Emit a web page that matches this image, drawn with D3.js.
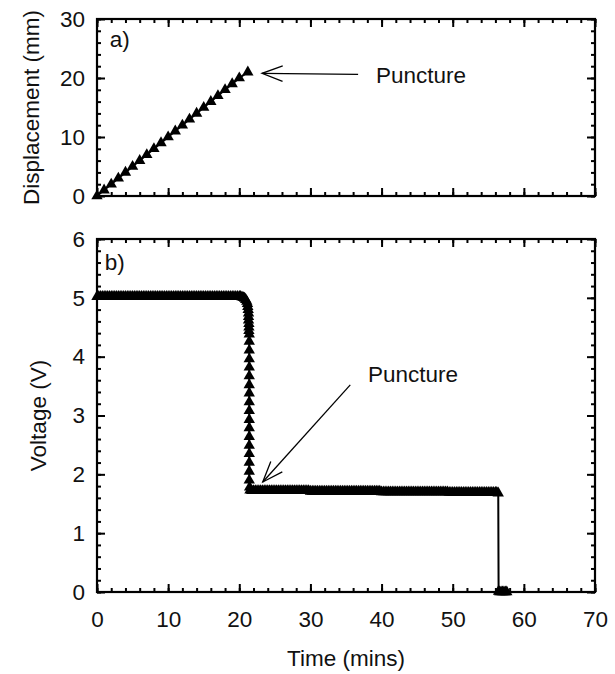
<!DOCTYPE html>
<html>
<head>
<meta charset="utf-8">
<script src="https://cdn.jsdelivr.net/npm/d3@7"></script>
<style>
body { margin: 0; background: #fff; }
text { font-family: "Liberation Sans", Arial, sans-serif; }
</style>
</head>
<body>
<script>
// ---- data ----
var xTicks = [0, 10, 20, 30, 40, 50, 60, 70];
var dispTicks = [0, 10, 20, 30];
var voltTicks = [0, 1, 2, 3, 4, 5, 6];

// panel a) displacement vs time
var dispTime = [0, 1, 2, 3, 4, 5, 6, 7, 8, 9, 10, 11, 12, 13, 14, 15, 16, 17, 18, 19, 20, 21.2];
var dispValue = [0, 1.0, 2.0, 3.0, 4.0, 5.0, 6.0, 7.0, 8.0, 9.0, 10.0, 11.0, 12.0, 13.0, 14.0, 15.0, 16.0, 17.0, 18.0, 19.0, 20.0, 21.0];

// panel b) voltage vs time (logged every 0.25 min on the plateaus)
var voltHighTime = [0,0.25,0.5,0.75,1,1.25,1.5,1.75,2,2.25,2.5,2.75,3,3.25,3.5,3.75,4,4.25,4.5,4.75,
  5,5.25,5.5,5.75,6,6.25,6.5,6.75,7,7.25,7.5,7.75,8,8.25,8.5,8.75,9,9.25,9.5,9.75,
  10,10.25,10.5,10.75,11,11.25,11.5,11.75,12,12.25,12.5,12.75,13,13.25,13.5,13.75,14,14.25,14.5,14.75,
  15,15.25,15.5,15.75,16,16.25,16.5,16.75,17,17.25,17.5,17.75,18,18.25,18.5,18.75,19,19.25,19.5,19.75,20];
var voltHighValue = [5.02,5.02,5.02,5.02,5.02,5.02,5.02,5.02,5.02,5.02,5.02,5.02,5.02,5.02,5.02,5.02,5.02,5.02,5.02,5.02,
  5.02,5.02,5.02,5.02,5.02,5.02,5.02,5.02,5.02,5.02,5.02,5.02,5.02,5.02,5.02,5.02,5.02,5.02,5.02,5.02,
  5.02,5.02,5.02,5.02,5.02,5.02,5.02,5.02,5.02,5.02,5.02,5.02,5.02,5.02,5.02,5.02,5.02,5.02,5.02,5.02,
  5.02,5.02,5.02,5.02,5.02,5.02,5.02,5.02,5.02,5.02,5.02,5.02,5.02,5.02,5.02,5.02,5.02,5.02,5.02,5.02,5.02];
var voltDrop = [[20.2,5.02],[20.4,5.01],[20.6,5.0],[20.75,4.99],[20.9,4.97],[21.05,4.94],[21.15,4.9],[21.2,4.85],
  [21.25,4.8],[21.3,4.74],[21.3,4.68],[21.3,4.62],[21.35,4.56],[21.35,4.5],[21.35,4.44],[21.4,4.38],[21.4,4.26],
  [21.4,4.11],[21.4,3.96],[21.4,3.82],[21.4,3.67],[21.4,3.52],[21.4,3.38],[21.4,3.23],[21.4,3.08],[21.4,2.93],
  [21.4,2.79],[21.4,2.64],[21.4,2.49],[21.4,2.35],[21.4,2.2],[21.4,2.05],[21.4,1.9],[21.45,1.78]];
var voltLowTime = [21.5,21.75,22,22.25,22.5,22.75,23,23.25,23.5,23.75,24,24.25,24.5,24.75,25,25.25,25.5,25.75,
  26,26.25,26.5,26.75,27,27.25,27.5,27.75,28,28.25,28.5,28.75,29,29.25,29.5,29.75,
  30,30.25,30.5,30.75,31,31.25,31.5,31.75,32,32.25,32.5,32.75,33,33.25,33.5,33.75,
  34,34.25,34.5,34.75,35,35.25,35.5,35.75,36,36.25,36.5,36.75,37,37.25,37.5,37.75,
  38,38.25,38.5,38.75,39,39.25,39.5,39.75,40,40.25,40.5,40.75,41,41.25,41.5,41.75,
  42,42.25,42.5,42.75,43,43.25,43.5,43.75,44,44.25,44.5,44.75,45,45.25,45.5,45.75,
  46,46.25,46.5,46.75,47,47.25,47.5,47.75,48,48.25,48.5,48.75,49,49.25,49.5,49.75,
  50,50.25,50.5,50.75,51,51.25,51.5,51.75,52,52.25,52.5,52.75,53,53.25,53.5,53.75,
  54,54.25,54.5,54.75,55,55.25,55.5,55.75,56,56.2,56.4];
var voltLowValue = [1.73,1.72,1.72,1.72,1.72,1.72,1.72,1.72,1.72,1.72,1.72,1.72,1.72,1.72,1.72,1.72,1.72,1.72,
  1.72,1.72,1.72,1.72,1.72,1.72,1.72,1.72,1.72,1.72,1.72,1.72,1.72,1.72,1.72,1.72,
  1.71,1.71,1.71,1.71,1.71,1.71,1.71,1.71,1.71,1.71,1.71,1.71,1.71,1.71,1.71,1.71,
  1.71,1.71,1.71,1.71,1.71,1.71,1.71,1.71,1.71,1.71,1.71,1.71,1.71,1.71,1.71,1.71,
  1.71,1.71,1.71,1.71,1.71,1.71,1.71,1.71,1.70,1.70,1.70,1.70,1.70,1.70,1.70,1.70,
  1.70,1.70,1.70,1.70,1.70,1.70,1.70,1.70,1.70,1.70,1.70,1.70,1.70,1.70,1.70,1.70,
  1.70,1.70,1.70,1.70,1.70,1.70,1.70,1.70,1.70,1.70,1.70,1.70,1.70,1.70,1.69,1.69,
  1.69,1.69,1.69,1.69,1.69,1.69,1.69,1.69,1.69,1.69,1.69,1.69,1.69,1.69,1.69,1.69,
  1.69,1.69,1.69,1.69,1.69,1.69,1.69,1.69,1.69,1.69,1.68];
var voltCut = [[56.45,0.01],[56.6,0],[56.8,0],[57.0,0],[57.2,0],[57.4,0],[57.6,0]];

// ---- layout ----
var W = 615, H = 674;
var FONT = 22.5;
var svg = d3.select("body").append("svg").attr("width", W).attr("height", H);

var x = d3.scaleLinear().domain([0, 70]).range([97, 595]);
var yTop = d3.scaleLinear().domain([0, 30]).range([196, 19]);
var yBot = d3.scaleLinear().domain([0, 6]).range([592, 239]);

function zip(a, b) { return a.map(function(v, i){ return [v, b[i]]; }); }

function minorOf(scale, step) {
  var d = scale.domain(), out = [];
  for (var v = d[0]; v <= d[1] + 1e-9; v += step) out.push(+v.toFixed(4));
  return out;
}

function styleAxis(g) {
  g.select(".domain").remove();
  g.selectAll(".tick line").attr("stroke", "#000").attr("stroke-width", 2);
  g.selectAll(".tick text").attr("font-size", FONT).attr("fill", "#111")
    .style("font-family", "'Liberation Sans', Arial, sans-serif");
}

function drawPanel(y, yMajor, yMinorStep, showX) {
  var g = svg.append("g");
  var y0 = y.range()[0], y1 = y.range()[1];
  var x0 = x.range()[0], x1 = x.range()[1];
  var xMinor = minorOf(x, 2), yMinor = minorOf(y, yMinorStep);
  var fmt = d3.format("d");

  // minor ticks
  g.append("g").attr("transform", "translate(0," + y0 + ")")
    .call(d3.axisBottom(x).tickValues(xMinor).tickSize(-4).tickFormat("")).call(styleAxis);
  g.append("g").attr("transform", "translate(0," + y1 + ")")
    .call(d3.axisTop(x).tickValues(xMinor).tickSize(-4).tickFormat("")).call(styleAxis);
  g.append("g").attr("transform", "translate(" + x0 + ",0)")
    .call(d3.axisLeft(y).tickValues(yMinor).tickSize(-4).tickFormat("")).call(styleAxis);
  g.append("g").attr("transform", "translate(" + x1 + ",0)")
    .call(d3.axisRight(y).tickValues(yMinor).tickSize(-4).tickFormat("")).call(styleAxis);

  // major ticks
  var bx = d3.axisBottom(x).tickValues(xTicks).tickSize(-8).tickPadding(19).tickFormat(showX ? fmt : "");
  g.append("g").attr("transform", "translate(0," + y0 + ")").call(bx).call(styleAxis);
  g.append("g").attr("transform", "translate(0," + y1 + ")")
    .call(d3.axisTop(x).tickValues(xTicks).tickSize(-8).tickFormat("")).call(styleAxis);
  g.append("g").attr("transform", "translate(" + x0 + ",0)")
    .call(d3.axisLeft(y).tickValues(yMajor).tickSize(-8).tickPadding(12).tickFormat(fmt)).call(styleAxis);
  g.append("g").attr("transform", "translate(" + x1 + ",0)")
    .call(d3.axisRight(y).tickValues(yMajor).tickSize(-8).tickFormat("")).call(styleAxis);

  // frame
  g.append("rect").attr("x", x0).attr("y", y1).attr("width", x1 - x0).attr("height", y0 - y1)
    .attr("fill", "none").attr("stroke", "#000").attr("stroke-width", 2.2);
  return g;
}

var tri = d3.symbol().type(d3.symbolTriangle).size(56);

function drawSeries(pts, y) {
  var line = d3.line().x(function(d){ return x(d[0]); }).y(function(d){ return y(d[1]); });
  svg.append("path").datum(pts).attr("d", line)
    .attr("fill", "none").attr("stroke", "#000").attr("stroke-width", 2);
  svg.append("g").selectAll("path").data(pts).enter().append("path")
    .attr("d", tri)
    .attr("transform", function(d){ return "translate(" + x(d[0]) + "," + y(d[1]) + ")"; })
    .attr("fill", "#000");
}

function arrow(y, from, to) {
  var ax = x(from[0]), ay = y(from[1]), bx = x(to[0]), by = y(to[1]);
  var ang = Math.atan2(ay - by, ax - bx), L = 22, a = 0.36;
  svg.append("line").attr("x1", ax).attr("y1", ay).attr("x2", bx).attr("y2", by)
    .attr("stroke", "#000").attr("stroke-width", 1.3);
  svg.append("path")
    .attr("d", "M" + (bx + L * Math.cos(ang + a)) + "," + (by + L * Math.sin(ang + a)) +
      "L" + bx + "," + by + "L" + (bx + L * Math.cos(ang - a)) + "," + (by + L * Math.sin(ang - a)))
    .attr("fill", "none").attr("stroke", "#000").attr("stroke-width", 1.3);
}

function label(y, pos, txt, anchor) {
  svg.append("text").attr("x", x(pos[0])).attr("y", y(pos[1]))
    .attr("font-size", FONT).attr("fill", "#111").attr("text-anchor", anchor || "start").text(txt);
}

// panel a
drawPanel(yTop, dispTicks, 2, false);
drawSeries(zip(dispTime, dispValue), yTop);
arrow(yTop, [36.7, 20.6], [23.2, 20.8]);
label(yTop, [39.2, 19.2], "Puncture");
label(yTop, [1.8, 25.3], "a)");

// panel b
drawPanel(yBot, voltTicks, 0.2, true);
drawSeries(zip(voltHighTime, voltHighValue).concat(voltDrop, zip(voltLowTime, voltLowValue), voltCut), yBot);
arrow(yBot, [35.6, 3.52], [23.3, 1.87]);
label(yBot, [38.1, 3.57], "Puncture");
label(yBot, [1.1, 5.48], "b)");

// axis titles
svg.append("text").attr("x", (x.range()[0] + x.range()[1]) / 2).attr("y", 666)
  .attr("text-anchor", "middle").attr("font-size", FONT).attr("fill", "#111").text("Time (mins)");
svg.append("text").attr("transform", "translate(39," + (yTop.range()[0] + yTop.range()[1]) / 2 + ") rotate(-90)")
  .attr("text-anchor", "middle").attr("font-size", FONT).attr("fill", "#111").text("Displacement (mm)");
svg.append("text").attr("transform", "translate(46," + (yBot.range()[0] + yBot.range()[1]) / 2 + ") rotate(-90)")
  .attr("text-anchor", "middle").attr("font-size", FONT).attr("fill", "#111").text("Voltage (V)");
</script>
</body>
</html>
